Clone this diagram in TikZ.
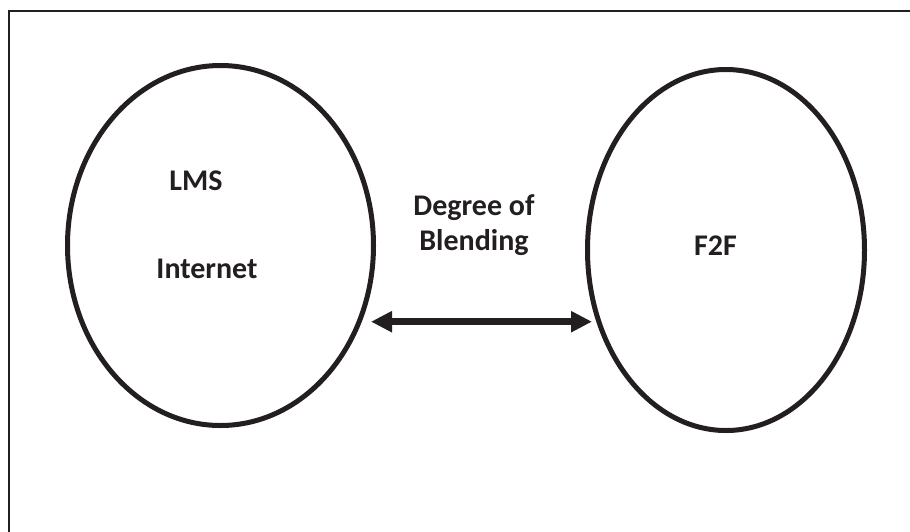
\documentclass[tikz,border=0pt]{standalone}
\usepackage{fontspec}
\setmainfont{Carlito}
\usetikzlibrary{shapes.geometric,arrows.meta}
\definecolor{ink}{HTML}{231F20}
\tikzset{
  oval/.style={draw=ink, line width=5pt, ellipse, inner sep=0pt},
  lbl/.style={font=\bfseries\fontsize{30}{35}\selectfont, text=ink, inner sep=0pt, align=center},
  biarrow/.style={draw=ink, line width=7pt, {Triangle[length=21pt,width=20pt]}-{Triangle[length=21pt,width=20pt]}}
}
\begin{document}
\begin{tikzpicture}[x=1pt,y=-1pt]
\useasboundingbox (0,0) rectangle (910,531);
\begin{scope}
\clip (0,0) rectangle (910,531);
\draw[ink, line width=2pt] (8.5,11) rectangle (960,600);
\end{scope}
\node[oval, minimum width=306pt, minimum height=360pt] (L) at (220.5,245.5) {};
\node[oval, minimum width=277pt, minimum height=361pt] (R) at (726,250) {};
\node[lbl] (lms) at (196,181) {LMS};
\node[lbl] (inet) at (207,269) {Internet};
\node[lbl] (deg) at (474,225) {Degree of\\Blending};
\node[lbl] (f2f) at (715.5,246) {F2F};
\coordinate (a1) at (371,321.7);
\coordinate (a2) at (592,321.7);
\draw[biarrow] (a1) -- (a2);
\end{tikzpicture}
\end{document}
